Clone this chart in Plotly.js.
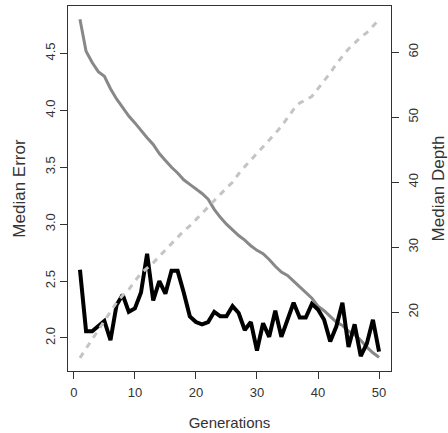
<!DOCTYPE html>
<html>
<head>
<meta charset="utf-8">
<script src="https://cdn.plot.ly/plotly-3.0.1.min.js"></script>
<style>html,body{margin:0;padding:0;background:#fff;}#chart{width:448px;height:433px;}</style>
</head>
<body>
<div id="chart"></div>
<script>
var generations = [];
for (var g = 1; g <= 50; g++) generations.push(g);

var errorGray = [4.80, 4.52, 4.42, 4.34, 4.30, 4.19, 4.10, 4.02, 3.95, 3.89,
                 3.82, 3.76, 3.70, 3.62, 3.56, 3.50, 3.45, 3.39, 3.35, 3.31,
                 3.27, 3.22, 3.13, 3.06, 3.00, 2.95, 2.90, 2.86, 2.81, 2.77,
                 2.74, 2.69, 2.63, 2.58, 2.55, 2.50, 2.45, 2.40, 2.35, 2.28,
                 2.24, 2.19, 2.14, 2.11, 2.06, 2.03, 1.98, 1.92, 1.87, 1.83];

var errorBlack = [2.60, 2.06, 2.06, 2.10, 2.15, 1.98, 2.29, 2.38, 2.23, 2.26,
                  2.40, 2.74, 2.33, 2.50, 2.39, 2.59, 2.59, 2.40, 2.19, 2.14,
                  2.12, 2.14, 2.23, 2.19, 2.19, 2.28, 2.22, 2.07, 2.14, 1.89,
                  2.13, 2.01, 2.24, 2.01, 2.16, 2.31, 2.18, 2.18, 2.30, 2.25,
                  2.16, 1.97, 2.10, 2.31, 1.92, 2.12, 1.84, 1.95, 2.16, 1.88];

var depth = [13.0, 14.4, 15.8, 17.2, 18.6, 19.9, 21.5, 22.6, 23.5, 24.8,
             26.0, 26.8, 27.6, 28.6, 29.6, 30.6, 31.6, 32.5, 33.3, 34.2,
             35.2, 36.2, 37.2, 38.2, 39.1, 40.0, 41.3, 42.4, 43.4, 44.4,
             45.4, 46.5, 47.5, 48.6, 49.9, 51.2, 52.2, 52.6, 53.2, 54.4,
             55.6, 56.8, 58.2, 59.4, 60.5, 61.4, 62.3, 63.0, 64.0, 65.0];

var xTicks = [0, 10, 20, 30, 40, 50];
var errTicks = [2.0, 2.5, 3.0, 3.5, 4.0, 4.5];
var errTickText = ["2.0", "2.5", "3.0", "3.5", "4.0", "4.5"];
var depthTicks = [20, 30, 40, 50, 60];

var traces = [
  {x: generations, y: depth, yaxis: 'y2', type: 'scatter', mode: 'lines',
   line: {color: '#c4c4c4', width: 3, dash: '6px,6px'}, hoverinfo: 'skip'},
  {x: generations, y: errorGray, type: 'scatter', mode: 'lines',
   line: {color: '#888888', width: 3}, hoverinfo: 'skip'},
  {x: generations, y: errorBlack, type: 'scatter', mode: 'lines',
   line: {color: '#000000', width: 4}, hoverinfo: 'skip'}
];

var font = {family: 'Liberation Sans, Arial, sans-serif', size: 13, color: '#333'};

var layout = {
  width: 448, height: 433,
  margin: {l: 68, r: 57, t: 6, b: 62, pad: 0},
  paper_bgcolor: '#fff', plot_bgcolor: '#fff',
  showlegend: false,
  font: font,
  xaxis: {
    range: [-0.96, 51.96], tickvals: xTicks, ticks: 'outside', ticklen: 7,
    tickcolor: '#333', showgrid: false, zeroline: false,
    showline: true, mirror: true, linecolor: '#333', linewidth: 1,
    tickfont: {size: 13, color: '#333'}, ticklabelstandoff: 2,
    title: {text: 'Generations', font: {size: 15, color: '#333'}, standoff: 18}
  },
  yaxis: {
    range: [1.71, 4.917], tickvals: errTicks, ticktext: errTickText,
    ticks: 'outside', ticklen: 7, tickcolor: '#333', tickangle: -90,
    showgrid: false, zeroline: false, showline: true, linecolor: '#333', linewidth: 1,
    tickfont: {size: 13, color: '#333'},
    title: {text: 'Median Error', font: {size: 17, color: '#333'}, standoff: 12}
  },
  yaxis2: {
    range: [10.97, 67.1], tickvals: depthTicks, overlaying: 'y', side: 'right',
    ticks: 'outside', ticklen: 7, tickcolor: '#333', tickangle: -90,
    showgrid: false, zeroline: false, showline: true, linecolor: '#333', linewidth: 1,
    tickfont: {size: 13, color: '#333'}, ticklabelstandoff: 3,
    title: {text: 'Median Depth', font: {size: 17, color: '#333'}, standoff: 17}
  }
};

Plotly.newPlot('chart', traces, layout, {displayModeBar: false, staticPlot: true});
</script>
</body>
</html>
